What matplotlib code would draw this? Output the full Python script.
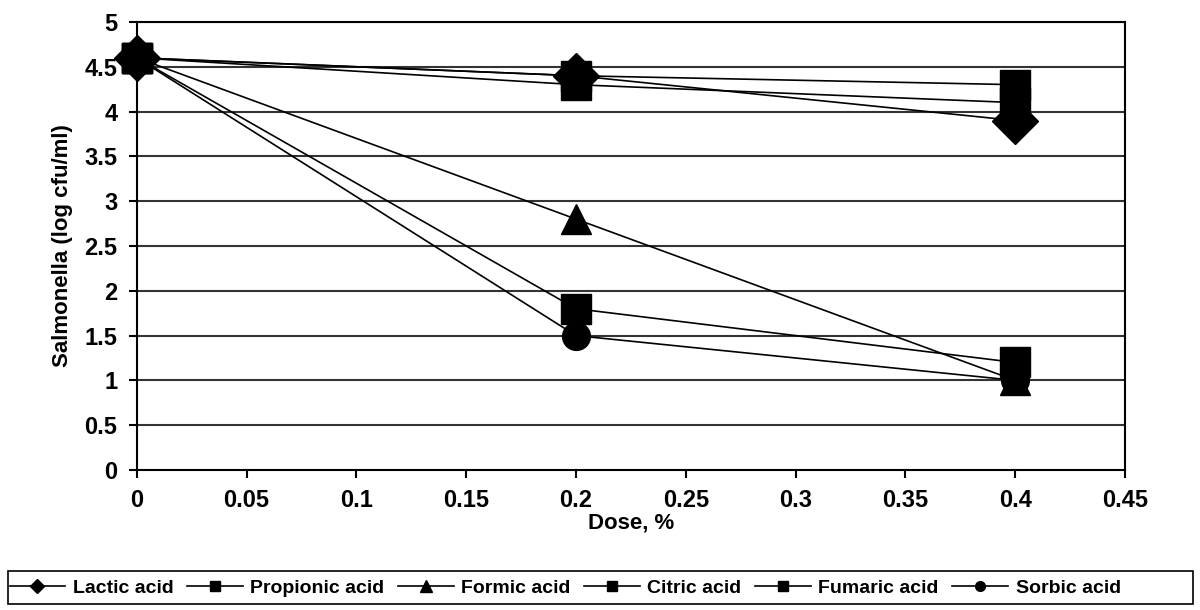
import matplotlib
matplotlib.use('Agg')
import matplotlib.pyplot as plt
from matplotlib.lines import Line2D
from matplotlib.patches import Rectangle

plt.rcParams['font.family'] = ['Liberation Sans', 'DejaVu Sans']
plt.rcParams['font.weight'] = 'bold'

# Data
dose = [0.0, 0.2, 0.4]
lactic = [4.6, 4.4, 3.9]
propionic = [4.6, 4.3, 4.1]
formic = [4.6, 2.8, 1.0]
citric = [4.6, 1.8, 1.2]
fumaric = [4.6, 4.4, 4.3]
sorbic = [4.6, 1.5, 1.0]

series = [
    ('Lactic acid', lactic, 'D', 23),
    ('Propionic acid', propionic, 's', 22),
    ('Formic acid', formic, '^', 22),
    ('Citric acid', citric, 's', 22),
    ('Fumaric acid', fumaric, 's', 22),
    ('Sorbic acid', sorbic, 'o', 20),
]
legend_ms = {'D': 7, 's': 7, '^': 8, 'o': 7}

fig = plt.figure(figsize=(12, 6.1), dpi=100)
ax = fig.add_axes([0.114, 0.2295, 0.8235, 0.7345])

for y in [0.5, 1, 1.5, 2, 2.5, 3, 3.5, 4, 4.5, 5]:
    ax.axhline(y, color='#333333', lw=1.5, zorder=1)

handles = []
for name, vals, mk, ms in series:
    ax.plot(dose, vals, color='black', lw=1.2, marker=mk, markersize=ms,
            markerfacecolor='black', markeredgecolor='black', zorder=3,
            clip_on=False)
    handles.append(Line2D([], [], color='black', lw=1.2, marker=mk,
                          markersize=legend_ms[mk], label=name))

ax.set_xlim(0, 0.45)
ax.set_ylim(0, 5)
ax.set_xticks([0, 0.05, 0.1, 0.15, 0.2, 0.25, 0.3, 0.35, 0.4, 0.45])
ax.set_xticklabels(['0', '0.05', '0.1', '0.15', '0.2', '0.25', '0.3', '0.35', '0.4', '0.45'])
ax.set_yticks([0, 0.5, 1, 1.5, 2, 2.5, 3, 3.5, 4, 4.5, 5])
ax.set_yticklabels(['0', '0.5', '1', '1.5', '2', '2.5', '3', '3.5', '4', '4.5', '5'])
ax.tick_params(direction='out', length=6, width=1.5, labelsize=17, pad=8)
for s in ax.spines.values():
    s.set_linewidth(1.5)
    s.set_color('black')
ax.set_xlabel('Dose, %', fontsize=16, fontweight='bold', labelpad=0)
ax.set_ylabel('Salmonella (log cfu/ml)', fontsize=16, fontweight='bold', labelpad=8)

# legend items packed from the left, frame spanning the full width
leg = fig.legend(handles=handles, loc='center left', bbox_to_anchor=(0.008, 0.036),
                 ncol=6, frameon=False, fontsize=14, handlelength=2.85,
                 handletextpad=0.4, columnspacing=0.7, borderaxespad=0,
                 borderpad=0.0)
fig.patches.append(Rectangle((8 / 1200, 6 / 610), 1185 / 1200, 33 / 610,
                             transform=fig.transFigure, fill=False,
                             edgecolor='black', lw=1.2))

fig.savefig('out.png', dpi=100)
